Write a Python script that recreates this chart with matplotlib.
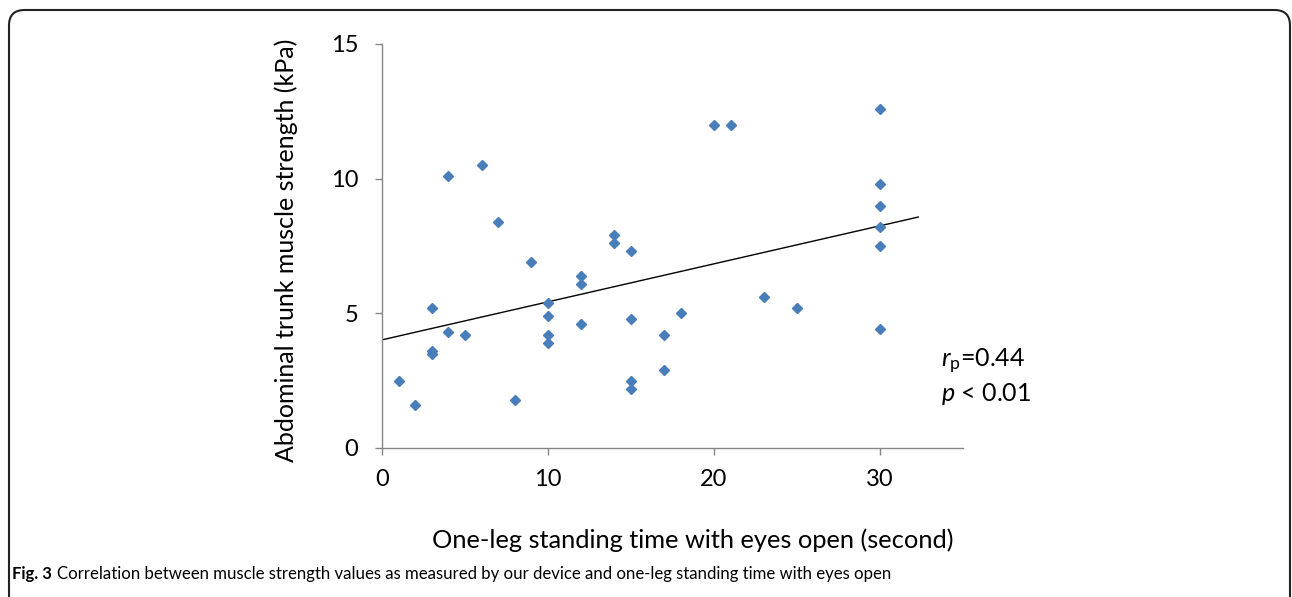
import numpy as np
import matplotlib
matplotlib.use("Agg")
import matplotlib.pyplot as plt
from matplotlib.patches import FancyBboxPatch

plt.rcParams['font.family'] = ['Lato', 'DejaVu Sans']
plt.rcParams['mathtext.fontset'] = 'custom'
plt.rcParams['mathtext.rm'] = 'Lato'
plt.rcParams['mathtext.it'] = 'Lato:italic'

# one-leg standing time (s) vs abdominal trunk muscle strength (kPa)
standing_time = [1, 2, 3, 3, 3, 4, 4, 5, 6, 7, 8, 9, 10, 10, 10, 10,
                 12, 12, 12, 14, 14, 15, 15, 15, 15, 17, 17, 18,
                 20, 21, 23, 25, 30, 30, 30, 30, 30, 30]
strength = [2.5, 1.6, 5.2, 3.6, 3.5, 10.1, 4.3, 4.2, 10.5, 8.4, 1.8, 6.9,
            5.4, 4.9, 4.2, 3.9, 6.4, 6.1, 4.6, 7.9, 7.6, 7.3, 4.8, 2.5, 2.2,
            4.2, 2.9, 5.0, 12.0, 12.0, 5.6, 5.2, 12.6, 9.8, 9.0, 8.2, 7.5, 4.4]
x_ticks = [0, 10, 20, 30]
y_ticks = [0, 5, 10, 15]

fig = plt.figure(figsize=(12.92, 5.97), dpi=100)
ax = fig.add_axes([0.2957, 0.2496, 0.4497, 0.6767])

ax.plot(standing_time, strength, linestyle="none", marker="D",
        markersize=5.2, color="#4a7ebb", zorder=3)

slope, intercept = np.polyfit(standing_time, strength, 1)
fit_x = np.array([0, 32.3])
ax.plot(fit_x, slope * fit_x + intercept, color="black", lw=1.0, zorder=2)

ax.set_xlim(0, 35)
ax.set_ylim(0, 15)
ax.set_xticks(x_ticks)
ax.set_yticks(y_ticks)
for s in ["top", "right"]:
    ax.spines[s].set_visible(False)
for s in ["left", "bottom"]:
    ax.spines[s].set_color("#868686")
    ax.spines[s].set_linewidth(1.0)
ax.tick_params(axis="both", direction="out", length=5, width=1.0,
               color="#868686", labelsize=17)
ax.tick_params(axis="y", pad=12)
ax.tick_params(axis="x", pad=10)

ax.set_xlabel("One-leg standing time with eyes open (second)", fontsize=18.3)
ax.set_ylabel("Abdominal trunk muscle strength (kPa)", fontsize=18)
ax.xaxis.set_label_coords(0.534, -0.198)
ax.yaxis.set_label_coords(-0.144, 0.49)

ax.text(33.7, 3.2, r"$r_\mathrm{p}$=0.44", fontsize=18, va="center", ha="left")
ax.text(33.7, 2.0, r"$p$ < 0.01", fontsize=18, va="center", ha="left")

fig.text(0.0095, 0.038, "Fig. 3", fontsize=12, fontweight="bold", va="center")
fig.text(0.0445, 0.038,
         "Correlation between muscle strength values as measured by our device and one-leg standing time with eyes open",
         fontsize=12.1, va="center")

border = FancyBboxPatch((9 / 1292, -0.05), 1281 / 1292, 1.05 - 10 / 597,
                        boxstyle="round,pad=0,rounding_size=0.012",
                        transform=fig.transFigure, fill=False,
                        edgecolor="#222222", lw=1.5, mutation_aspect=1292 / 597)
fig.patches.append(border)

fig.savefig("out.png", dpi=100)
